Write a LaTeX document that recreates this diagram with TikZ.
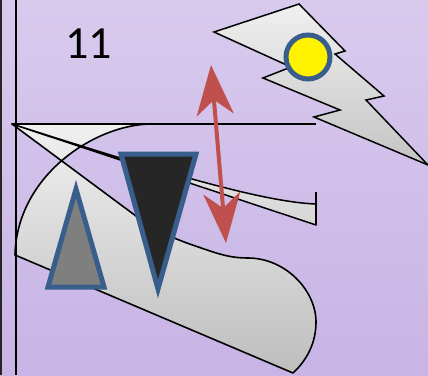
\documentclass[tikz,border=0pt]{standalone}
\usepackage{fontspec}
\setmainfont{Carlito}
\usetikzlibrary{arrows.meta}
\definecolor{bgtop}{HTML}{D8CAED}
\definecolor{bgbot}{HTML}{C8B4E5}
\definecolor{shA}{HTML}{F0F0F0}
\definecolor{shB}{HTML}{BEBEBE}
\definecolor{ltA}{HTML}{F0F0F0}
\definecolor{ltB}{HTML}{C4C4C4}
\definecolor{slA}{HTML}{F0F0F0}
\definecolor{slB}{HTML}{D6D6D6}
\definecolor{triblue}{HTML}{3A5E8C}
\definecolor{trigray}{HTML}{7F7F7F}
\definecolor{tridark}{HTML}{262626}
\definecolor{arrred}{HTML}{C0504D}
\begin{document}
\begin{tikzpicture}[x=1pt,y=-1pt,
  outline/.style={draw=black, line width=1.6pt, line join=round},
  tri/.style={draw=triblue, line width=5pt, line join=miter},
  redarrow/.style={draw=arrred, line width=4pt,
    {Stealth[length=50pt,width=37pt,inset=15pt,fill=arrred]}-{Stealth[length=50pt,width=37pt,inset=15pt,fill=arrred]}},
  blackline/.style={draw=black, line width=2pt}
]
\useasboundingbox (0,0) rectangle (428,375);
\clip (0,0) rectangle (428,375);
\shade[top color=bgtop,bottom color=bgbot] (0,0) rectangle (428,375);

% left edge strip
\draw[draw=black!85, line width=2.5pt] (1.2,0) -- (1.2,375);

% big figure-eight shape
\path[outline, top color=shA, bottom color=shB]
  (12,124) -- (150,124)
  .. controls (95,125) and (17,175) .. (15,255)
  -- (293,373)
  .. controls (305,362) and (316,345) .. (316,322)
  .. controls (316,290) and (285,258) .. (248,258)
  .. controls (235,258) and (225,256) .. (210,251)
  .. controls (190,244) and (165,237) .. (140,219)
  -- cycle;

% sliver
\path[outline, line width=1.5pt, top color=slA, bottom color=slB]
  (12,124) .. controls (150,168) and (260,202) .. (316,204)
  -- (316,225) -- cycle;
\coordinate (vtop) at (316,192);
\coordinate (vbot) at (316,225);
\draw[blackline] (vtop) -- (vbot);

% horizontal and vertical lines
\coordinate (hl) at (12,124);
\coordinate (hr) at (316,124);
\draw[blackline] (hl) -- (hr);
\coordinate (vt) at (16,0);
\coordinate (vb) at (16,375);
\draw[blackline] (vt) -- (vb);

% gray triangle
\path[tri, fill=trigray] (76,189) -- (104,287) -- (48,287) -- cycle;

% dark inverted triangle
\path[tri, fill=tridark] (121,154) -- (196,154) -- (158,289) -- cycle;

% red double arrow
\coordinate (atop) at (211,65);
\coordinate (abot) at (226,243);
\draw[redarrow] (atop) -- (abot);

% lightning bolt
\path[outline, line width=1.5pt, line join=miter, top color=ltA, bottom color=ltB]
  (214,32) -- (299,4) -- (345,51) -- (335,54) -- (384,96) -- (366,100)
  -- (428,165) -- (314,117) -- (340,110) -- (263,78) -- (291,67) -- cycle;

% sun circle
\path[draw=triblue, line width=5pt, fill=yellow] (308,57) circle (22);

% number
\node[font=\fontsize{46}{50}\selectfont, anchor=base, inner sep=0] (num) at (88.5,58) {11};
\end{tikzpicture}
\end{document}
